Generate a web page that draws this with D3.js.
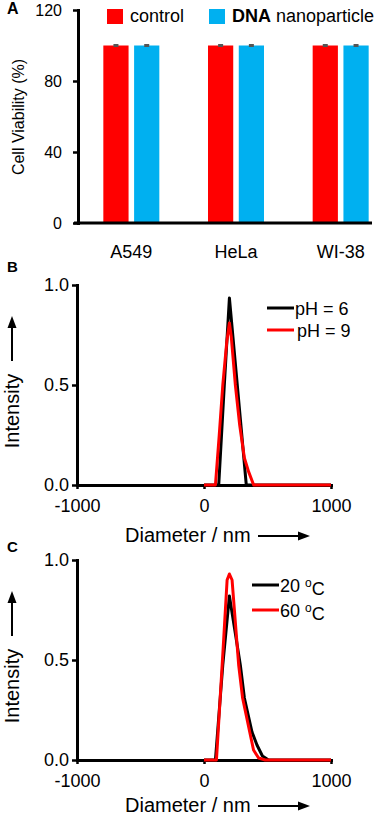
<!DOCTYPE html>
<html><head><meta charset="utf-8">
<script src="https://cdn.jsdelivr.net/npm/d3@7"></script>
<style>
html,body{margin:0;padding:0;background:#fff;}
svg{display:block;font-family:Arial,"Liberation Sans",sans-serif;}
</style></head>
<body>
<svg id="chart" width="386" height="817"></svg>
<script>
// ---------- Panel A data ----------
const categories = ["A549", "HeLa", "WI-38"];
const seriesNames = ["control", "DNA nanoparticle"];
const controlValues = [100, 100, 100];
const dnaValues = [100, 100, 100];
const controlErrors = [0.4, 0.4, 0.4];
const dnaErrors = [0.4, 0.4, 0.4];
const yTicksA = [0, 40, 80, 120];

// ---------- Panel B data ----------
const pH6Diameter = [0, 116, 160, 200, 262, 333, 1000];
const pH6Intensity = [0, 0, 0.5, 0.935, 0.5, 0, 0];
const pH9Diameter = [0, 90, 120, 148, 180, 200, 215, 247, 281, 318, 351, 391, 1000];
const pH9Intensity = [0, 0, 0.25, 0.5, 0.72, 0.81, 0.74, 0.5, 0.3, 0.135, 0.067, 0, 0];

// ---------- Panel C data ----------
const t20Diameter = [0, 90, 148, 200, 240, 286, 318, 378, 417, 460, 508, 1000];
const t20Intensity = [0, 0, 0.475, 0.82, 0.66, 0.475, 0.31, 0.14, 0.075, 0.02, 0, 0];
const t60Diameter = [0, 98, 150, 182, 200, 221, 273, 304, 360, 390, 430, 482, 1000];
const t60Intensity = [0, 0, 0.55, 0.9, 0.93, 0.9, 0.475, 0.31, 0.14, 0.05, 0.01, 0, 0];

const xTicksDLS = [-1000, 0, 1000];
const yTicksDLS = [0, 0.5, 1.0];

const RED = "#ff0000", BLUE = "#00b0f0", BLACK = "#000";
const svg = d3.select("#chart");

function styleAxis(g, fs) {
  g.select(".domain").attr("stroke", BLACK).attr("stroke-width", 3).attr("stroke-linecap", "square");
  g.selectAll(".tick line").attr("stroke", BLACK).attr("stroke-width", 2.5);
  g.selectAll(".tick text").attr("fill", BLACK).style("font-size", fs + "px").style("font-family", "Arial, 'Liberation Sans', sans-serif");
}

// ================= Panel A =================
(function () {
  const y = d3.scaleLinear().domain([0, 120]).range([223, 10]);
  const x0 = d3.scaleBand().domain(categories).range([79, 393]).padding(0);
  const x1 = d3.scaleBand().domain(seriesNames).range([-28, 28]).paddingInner(0.18).paddingOuter(0);
  const colors = d3.scaleOrdinal().domain(seriesNames).range([RED, BLUE]);
  const rows = categories.map((c, i) => ({
    cat: c,
    vals: [
      { s: seriesNames[0], v: controlValues[i], e: controlErrors[i] },
      { s: seriesNames[1], v: dnaValues[i], e: dnaErrors[i] }
    ]
  }));

  const g = svg.append("g");
  const grp = g.selectAll("g.grp").data(rows).enter().append("g")
    .attr("transform", d => `translate(${x0(d.cat) + x0.bandwidth() / 2},0)`);
  grp.selectAll("rect").data(d => d.vals).enter().append("rect")
    .attr("x", d => x1(d.s)).attr("width", x1.bandwidth())
    .attr("y", d => y(d.v)).attr("height", d => y(0) - y(d.v))
    .attr("fill", d => colors(d.s));
  // error bars
  grp.selectAll("path.err").data(d => d.vals).enter().append("path")
    .attr("d", d => {
      const cx = x1(d.s) + x1.bandwidth() / 2;
      return `M${cx - 2.5},${y(d.v + d.e)}H${cx + 2.5}M${cx},${y(d.v + d.e)}V${y(d.v - d.e)}M${cx - 2.5},${y(d.v - d.e)}H${cx + 2.5}`;
    })
    .attr("stroke", "#555").attr("stroke-width", 1.5).attr("fill", "none");

  // category labels
  g.selectAll("text.cat").data(categories).enter().append("text")
    .attr("x", d => x0(d) + x0.bandwidth() / 2).attr("y", 258)
    .attr("text-anchor", "middle").style("font-size", "18px").text(d => d);

  // y axis
  const ya = g.append("g").attr("transform", "translate(78,0)")
    .call(d3.axisLeft(y).tickValues(yTicksA).tickSize(5).tickSizeOuter(0).tickPadding(11).tickFormat(d => String(d)));
  styleAxis(ya, 16);
  // x axis baseline
  g.append("line").attr("x1", 74).attr("x2", 372).attr("y1", y(0)).attr("y2", y(0))
    .attr("stroke", BLACK).attr("stroke-width", 3);

  // y title
  g.append("text").attr("transform", `translate(24,117) rotate(-90)`)
    .attr("text-anchor", "middle").style("font-size", "16px").text("Cell Viability (%)");

  // legend
  const leg = g.append("g");
  const legX = [107, 209];
  seriesNames.forEach((s, i) => {
    leg.append("rect").attr("x", legX[i]).attr("y", 9).attr("width", 16).attr("height", 15).attr("fill", colors(s));
  });
  leg.append("text").attr("x", 130).attr("y", 22).style("font-size", "18px").text("control");
  const t2 = leg.append("text").attr("x", 232).attr("y", 22).style("font-size", "18px");
  t2.append("tspan").style("font-weight", "bold").text("DNA");
  t2.append("tspan").text(" nanoparticle");

  // panel letter
  g.append("text").attr("x", 7).attr("y", 14).style("font-size", "16px").style("font-weight", "bold").text("A");
})();

// ================= DLS panels =================
function dlsPanel(opts) {
  const x = d3.scaleLinear().domain([-1000, 1000]).range([77, 331]);
  const y = d3.scaleLinear().domain([0, 1]).range([opts.y0, opts.y0 - 200]);
  const g = svg.append("g");

  const xa = g.append("g").attr("transform", `translate(0,${y(0)})`)
    .call(d3.axisBottom(x).tickValues(xTicksDLS).tickSize(4).tickSizeOuter(0).tickPadding(6).tickFormat(d => String(d)));
  styleAxis(xa, 18);
  xa.selectAll(".tick text").attr("dy", "0.95em");
  const ya = g.append("g").attr("transform", `translate(${x(-1000)},0)`)
    .call(d3.axisLeft(y).tickValues(yTicksDLS).tickSize(5).tickSizeOuter(0).tickPadding(3).tickFormat(d3.format(".1f")));
  styleAxis(ya, 18);

  const line = d3.line().x(d => x(d[0])).y(d => y(d[1]));
  opts.series.forEach(s => {
    g.append("path").datum(s.d.map((v, i) => [v, s.v[i]]))
      .attr("d", line).attr("fill", "none").attr("stroke", s.color)
      .attr("stroke-width", 3).attr("stroke-linejoin", "round");
  });

  // legend
  opts.series.forEach((s, i) => {
    const ly = opts.legY[i];
    g.append("line").attr("x1", opts.legX).attr("x2", opts.legX + 27).attr("y1", ly).attr("y2", ly)
      .attr("stroke", s.color).attr("stroke-width", 3);
    const t = g.append("text").attr("x", opts.legX + 28 + (s.tx || 0)).attr("y", ly + 7).style("font-size", "18px");
    s.label(t);
  });

  // x title + arrow
  const xtY = opts.xtY;
  g.append("text").attr("x", 125).attr("y", xtY).style("font-size", "20px").text("Diameter / nm");
  g.append("line").attr("x1", 258).attr("x2", 300).attr("y1", xtY - 6).attr("y2", xtY - 6)
    .attr("stroke", BLACK).attr("stroke-width", 2);
  g.append("path").attr("d", `M${310},${xtY - 6}L${298},${xtY - 10.5}L${298},${xtY - 1.5}Z`).attr("fill", BLACK);

  // y title + arrow
  const ytCenter = opts.y0 - 74;
  g.append("text").attr("transform", `translate(19,${ytCenter}) rotate(-90)`)
    .attr("text-anchor", "middle").style("font-size", "20px").text("Intensity");
  const ax = 12;
  const aBot = ytCenter - 50, aTop = ytCenter - 95;
  g.append("line").attr("x1", ax).attr("x2", ax).attr("y1", aBot).attr("y2", aTop + 10)
    .attr("stroke", BLACK).attr("stroke-width", 2);
  g.append("path").attr("d", `M${ax},${aTop}L${ax - 4.5},${aTop + 12}L${ax + 4.5},${aTop + 12}Z`).attr("fill", BLACK);

  g.append("text").attr("x", 7).attr("y", opts.letterY).style("font-size", "15px").style("font-weight", "bold").text(opts.letter);
}

dlsPanel({
  y0: 485, xtY: 542, letter: "B", letterY: 272, legX: 267, legY: [308, 330],
  series: [
    { d: pH6Diameter, v: pH6Intensity, color: BLACK, label: t => t.text("pH = 6") },
    { d: pH9Diameter, v: pH9Intensity, color: RED, tx: 2, label: t => t.text("pH = 9") }
  ]
});

function degLabel(n) {
  return t => {
    t.append("tspan").text(n + " ");
    t.append("tspan").attr("dy", "-0.45em").style("font-size", "12px").text("o");
    t.append("tspan").attr("dy", "0.45em").text("C");
  };
}
dlsPanel({
  y0: 760, xtY: 812, letter: "C", letterY: 552, legX: 252, legY: [585, 610],
  series: [
    { d: t20Diameter, v: t20Intensity, color: BLACK, label: degLabel("20") },
    { d: t60Diameter, v: t60Intensity, color: RED, label: degLabel("60") }
  ]
});
</script>
</body></html>
